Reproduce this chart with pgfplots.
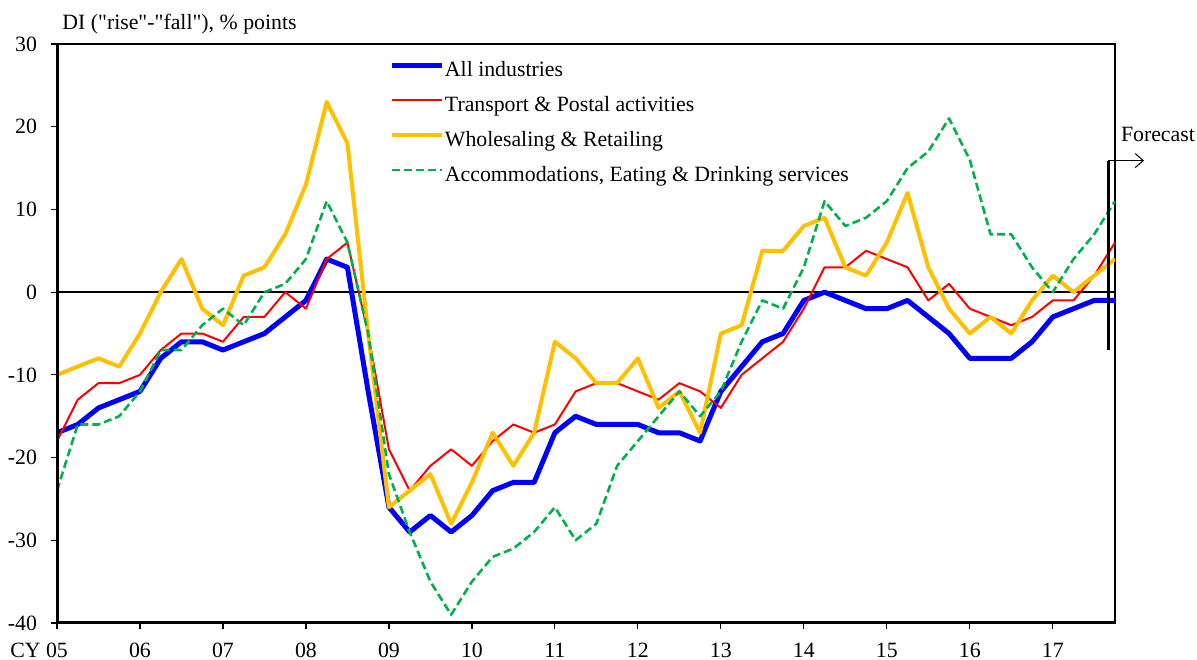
\documentclass[border=0pt]{standalone}
\usepackage{fontspec}
\setmainfont{Liberation Serif}[Ligatures=TeXOff]
\usepackage{pgfplots}
\pgfplotsset{compat=1.18}
\usetikzlibrary{arrows.meta}
\definecolor{cblue}{RGB}{0,0,255}
\definecolor{cred}{RGB}{255,0,0}
\definecolor{cgold}{RGB}{255,192,0}
\definecolor{cgreen}{RGB}{0,176,80}
\newcommand{\fs}{\fontsize{10.9bp}{13bp}\selectfont}
\begin{document}
\begin{tikzpicture}
\begin{axis}[
  at={(28.5bp,18.5bp)}, anchor=south west,
  scale only axis, width=529bp, height=289.5bp,
  xmin=0, xmax=51, ymin=-40, ymax=30,
  xtick={0,4,...,48},
  xticklabels={\llap{CY }05,06,07,08,09,10,11,12,13,14,15,16,17},
  ytick={-40,-30,...,30},
  yticklabels={-40,-30,-20,-10,0,10,20,30},
  xtick pos=bottom, ytick pos=left,
  tick align=outside, major tick length=3bp,
  tick style={black, line width=0.6bp},
  axis line style={line width=0.8bp},
  ticklabel style={font=\fs},
  yticklabel style={xshift=-3.5bp},
  xticklabel style={yshift=-3.5bp},
  /pgf/number format/assume math mode=true,
  legend style={draw=none, fill=none, at={(rel axis cs:0.3147,0.970)}, anchor=north west,
    inner sep=0pt, outer sep=0pt, font=\fs, row sep=7.5bp,
    nodes={inner sep=0pt, text height=0.75em, text depth=0.25em}},
  legend cell align=left,
  legend image code/.code={\draw[#1] (0bp,0.3em) -- (25bp,0.3em); \path (0bp,0bp) (25bp,0bp);},
]
\addplot[black, line width=0.8bp, forget plot] coordinates {(0,0) (51,0)};
\addplot[cblue, line width=2.5bp, line join=round] coordinates {
(0,-17)(1,-16)(2,-14)(3,-13)(4,-12)(5,-8)(6,-6)(7,-6)(8,-7)(9,-6)(10,-5)(11,-3)(12,-1)(13,4)(14,3)(15,-12)
(16,-26)(17,-29)(18,-27)(19,-29)(20,-27)(21,-24)(22,-23)(23,-23)(24,-17)(25,-15)(26,-16)(27,-16)(28,-16)(29,-17)(30,-17)(31,-18)
(32,-12)(33,-9)(34,-6)(35,-5)(36,-1)(37,0)(38,-1)(39,-2)(40,-2)(41,-1)(42,-3)(43,-5)(44,-8)(45,-8)(46,-8)(47,-6)
(48,-3)(49,-2)(50,-1)(51,-1)};
\addlegendentry{All industries}
\addplot[cred, line width=1bp, line join=round] coordinates {
(0,-18)(1,-13)(2,-11)(3,-11)(4,-10)(5,-7)(6,-5)(7,-5)(8,-6)(9,-3)(10,-3)(11,0)(12,-2)(13,4)(14,6)(15,-5)
(16,-19)(17,-24)(18,-21)(19,-19)(20,-21)(21,-18)(22,-16)(23,-17)(24,-16)(25,-12)(26,-11)(27,-11)(28,-12)(29,-13)(30,-11)(31,-12)
(32,-14)(33,-10)(34,-8)(35,-6)(36,-2)(37,3)(38,3)(39,5)(40,4)(41,3)(42,-1)(43,1)(44,-2)(45,-3)(46,-4)(47,-3)
(48,-1)(49,-1)(50,2)(51,6)};
\addlegendentry{Transport \& Postal activities}
\addplot[cgold, line width=2bp, line join=round] coordinates {
(0,-10)(1,-9)(2,-8)(3,-9)(4,-5)(5,0)(6,4)(7,-2)(8,-4)(9,2)(10,3)(11,7)(12,13)(13,23)(14,18)(15,-5)
(16,-26)(17,-24)(18,-22)(19,-28)(20,-23)(21,-17)(22,-21)(23,-17)(24,-6)(25,-8)(26,-11)(27,-11)(28,-8)(29,-14)(30,-12)(31,-17)
(32,-5)(33,-4)(34,5)(35,5)(36,8)(37,9)(38,3)(39,2)(40,6)(41,12)(42,3)(43,-2)(44,-5)(45,-3)(46,-5)(47,-1)
(48,2)(49,0)(50,2)(51,4)};
\addlegendentry{Wholesaling \& Retailing}
\addplot[cgreen, line width=1.3bp, dash pattern=on 4bp off 2bp, line join=round] coordinates {
(0,-24)(1,-16)(2,-16)(3,-15)(4,-12)(5,-7)(6,-7)(7,-4)(8,-2)(9,-4)(10,0)(11,1)(12,4)(13,11)(14,6)(15,-5)
(16,-22)(17,-29)(18,-35)(19,-39)(20,-35)(21,-32)(22,-31)(23,-29)(24,-26)(25,-30)(26,-28)(27,-21)(28,-18)(29,-15)(30,-12)(31,-15)
(32,-12)(33,-6)(34,-1)(35,-2)(36,3)(37,11)(38,8)(39,9)(40,11)(41,15)(42,17)(43,21)(44,16)(45,7)(46,7)(47,3)
(48,0)(49,4)(50,7)(51,11)};
\addlegendentry{Accommodations, Eating \& Drinking services}
\draw[line width=1.6bp] (rel axis cs:0,1) -- (rel axis cs:0,0) -- (rel axis cs:1,0);
\end{axis}
\node[anchor=base west, inner sep=0pt, font=\fs] at (31bp,315bp) {DI ("rise"-"fall"), \% points};
\node[anchor=base west, inner sep=0pt, font=\fs] at (560.3bp,259.2bp) {Forecast};
\draw[line width=0.5bp, -{Straight Barb[length=4bp,width=7bp]}] (554.2bp,249.7bp) -- (572bp,249.7bp);
\draw[line width=1.2bp] (554.2bp,249.7bp) -- (554.2bp,155bp);
\pgfresetboundingbox
\path[use as bounding box] (0,0) rectangle (598.5bp,330bp);
\end{tikzpicture}
\end{document}
